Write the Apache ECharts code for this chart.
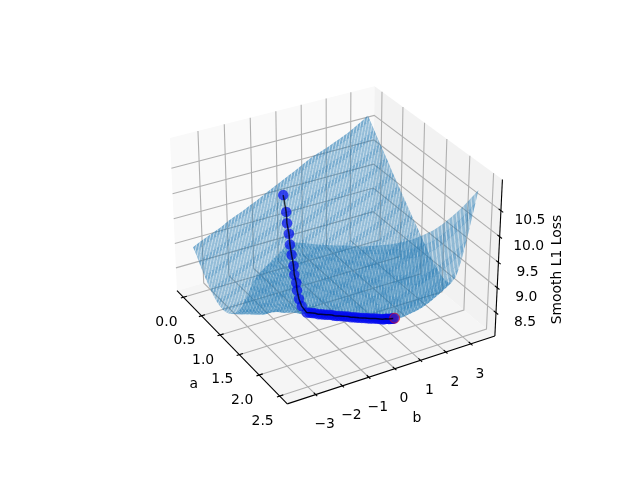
<!DOCTYPE html>
<html><head><meta charset="utf-8"><style>html,body{margin:0;padding:0;background:#fff}#c{width:640px;height:480px}</style>
<script src="https://cdn.jsdelivr.net/npm/echarts@6/dist/echarts.min.js"></script></head><body><div id="c"></div>
<script>
const aValues=[0,.1,.2,.3,.4,.5,.6,.7,.8,.9,1,1.1,1.2,1.3,1.4,1.5,1.6,1.7,1.8,1.9,2,2.1,2.2,2.3,2.4,2.5];
const bValues=[-3.6,-3.32,-3.04,-2.76,-2.48,-2.2,-1.92,-1.64,-1.36,-1.08,-.8,-.52,-.24,.04,.32,.6,.88,1.16,1.44,1.72,2,2.28,2.56,2.84,3.12,3.4];
const zGrid=[
[8.99,8.87,8.73,8.61,8.50,8.41,8.34,8.30,8.29,8.32,8.38,8.47,8.60,8.78,9.0,9.25,9.48,9.67,9.82,9.98,10.13,10.28,10.43,10.58,10.74,10.89],
[9.06,8.94,8.83,8.69,8.58,8.47,8.38,8.32,8.28,8.28,8.33,8.41,8.53,8.70,8.92,9.17,9.39,9.58,9.74,9.89,10.05,10.2,10.36,10.52,10.67,10.83],
[9.12,9.0,8.89,8.76,8.64,8.53,8.43,8.35,8.29,8.27,8.29,8.36,8.47,8.63,8.84,9.08,9.31,9.51,9.66,9.82,9.98,10.14,10.3,10.46,10.62,10.78],
[9.18,9.06,8.95,8.83,8.70,8.60,8.49,8.39,8.31,8.26,8.25,8.31,8.42,8.57,8.76,8.99,9.22,9.41,9.57,9.73,9.9,10.06,10.23,10.39,10.56,10.72],
[9.24,9.12,9.01,8.89,8.77,8.66,8.55,8.44,8.35,8.28,8.24,8.27,8.37,8.51,8.70,8.92,9.14,9.33,9.49,9.66,9.83,10.0,10.17,10.33,10.5,10.67],
[9.32,9.2,9.08,8.96,8.85,8.72,8.60,8.48,8.38,8.29,8.25,8.27,8.38,8.53,8.70,8.88,9.07,9.23,9.40,9.57,9.75,9.92,10.1,10.27,10.45,10.62],
[9.38,9.26,9.14,9.02,8.91,8.79,8.66,8.55,8.44,8.34,8.27,8.23,8.29,8.41,8.58,8.76,8.94,9.13,9.30,9.48,9.66,9.84,10.02,10.21,10.39,10.57],
[9.44,9.32,9.2,9.08,8.97,8.85,8.74,8.61,8.49,8.38,8.30,8.25,8.25,8.33,8.48,8.65,8.84,9.04,9.22,9.40,9.59,9.78,9.96,10.15,10.34,10.53],
[9.51,9.39,9.27,9.15,9.03,8.91,8.80,8.69,8.56,8.45,8.35,8.27,8.23,8.25,8.36,8.53,8.71,8.91,9.11,9.30,9.49,9.69,9.89,10.08,10.28,10.48],
[9.57,9.45,9.33,9.21,9.09,8.97,8.86,8.74,8.63,8.53,8.43,8.33,8.26,8.22,8.29,8.44,8.62,8.81,9.02,9.21,9.41,9.61,9.82,10.02,10.22,10.43],
[9.65,9.52,9.40,9.28,9.16,9.04,8.93,8.81,8.70,8.59,8.49,8.37,8.28,8.23,8.22,8.33,8.50,8.70,8.90,9.11,9.32,9.53,9.74,9.96,10.17,10.39],
[9.72,9.60,9.48,9.36,9.24,9.12,9.0,8.88,8.77,8.66,8.55,8.44,8.34,8.25,8.20,8.23,8.36,8.56,8.78,9.0,9.22,9.45,9.67,9.90,10.13,10.36],
[9.79,9.66,9.54,9.42,9.30,9.18,9.06,8.94,8.83,8.71,8.60,8.50,8.40,8.30,8.23,8.19,8.27,8.44,8.66,8.90,9.13,9.36,9.60,9.84,10.09,10.33],
[9.86,9.74,9.62,9.49,9.37,9.25,9.13,9.01,8.90,8.78,8.67,8.56,8.46,8.34,8.25,8.20,8.19,8.30,8.50,8.75,9.01,9.26,9.52,9.78,10.04,10.30],
[9.93,9.80,9.68,9.56,9.44,9.31,9.19,9.07,8.96,8.84,8.73,8.62,8.51,8.40,8.30,8.22,8.17,8.21,8.36,8.62,8.88,9.17,9.44,9.72,10.0,10.28],
[10.0,9.88,9.76,9.63,9.51,9.39,9.27,9.15,9.03,8.91,8.80,8.68,8.57,8.47,8.38,8.30,8.23,8.18,8.18,8.30,8.52,8.80,9.12,9.46,9.85,10.27],
[10.08,9.96,9.84,9.71,9.59,9.47,9.35,9.23,9.11,8.99,8.87,8.76,8.64,8.54,8.44,8.33,8.25,8.19,8.17,8.24,8.42,8.72,9.07,9.44,9.84,10.27],
[10.15,10.03,9.91,9.78,9.66,9.54,9.42,9.29,9.17,9.05,8.94,8.82,8.71,8.60,8.49,8.37,8.28,8.21,8.17,8.19,8.32,8.58,8.95,9.36,9.80,10.28],
[10.20,10.08,9.95,9.83,9.71,9.58,9.46,9.34,9.22,9.10,8.98,8.87,8.75,8.64,8.53,8.41,8.32,8.24,8.20,8.19,8.28,8.52,8.89,9.33,9.80,10.30],
[10.25,10.13,10.01,9.88,9.76,9.64,9.52,9.39,9.27,9.15,9.04,8.92,8.80,8.69,8.58,8.46,8.37,8.29,8.24,8.22,8.30,8.52,8.88,9.32,9.81,10.33],
[10.31,10.18,10.06,9.94,9.81,9.69,9.57,9.45,9.33,9.21,9.09,8.97,8.85,8.74,8.63,8.51,8.42,8.34,8.29,8.26,8.32,8.54,8.90,9.35,9.85,10.38],
[10.37,10.25,10.12,10.0,9.88,9.75,9.63,9.51,9.39,9.27,9.15,9.03,8.92,8.80,8.69,8.57,8.48,8.40,8.34,8.31,8.36,8.58,8.95,9.40,9.91,10.45],
[10.43,10.31,10.18,10.06,9.94,9.81,9.69,9.57,9.45,9.33,9.21,9.09,8.98,8.86,8.75,8.63,8.54,8.46,8.40,8.37,8.42,8.63,9.01,9.47,9.99,10.53],
[10.51,10.39,10.26,10.14,10.02,9.90,9.77,9.65,9.53,9.41,9.29,9.17,9.06,8.94,8.83,8.71,8.62,8.54,8.48,8.45,8.50,8.70,9.08,9.55,10.07,10.62],
[10.59,10.47,10.34,10.22,10.10,9.98,9.85,9.73,9.61,9.49,9.37,9.25,9.14,9.02,8.91,8.79,8.70,8.62,8.56,8.53,8.58,8.78,9.16,9.65,10.18,10.73],
[10.68,10.56,10.43,10.31,10.19,10.07,9.94,9.82,9.70,9.58,9.46,9.34,9.23,9.11,9.0,8.88,8.79,8.71,8.65,8.62,8.67,8.87,9.26,9.75,10.29,10.84]];
const pathA=[.13,.28,.33,.43,.48,.57,.67,.72,.82,.87,.97,1.12,1.33,1.35,1.37,1.395,1.42,1.44,1.46,1.48,1.50,1.52,1.54,1.56,1.58,1.60,1.62,1.64,1.66,1.68,1.70,1.72,1.74,1.76,1.78,1.80,1.82,1.84,1.86,1.88,1.90,1.91,1.92,1.93,1.94,1.95,1.96,1.96,1.97,1.97,1.98,1.98];
const pathB=[-.23,-.35,-.40,-.48,-.52,-.60,-.68,-.73,-.81,-.86,-.94,-1.07,-1.2,-1.12,-1.05,-.98,-.9,-.82,-.75,-.68,-.6,-.52,-.45,-.38,-.3,-.22,-.15,-.08,0,.08,.15,.22,.3,.38,.45,.52,.6,.66,.72,.78,.84,.89,.94,.98,1.02,1.05,1.08,1.10,1.12,1.15,1.17,1.19];
const pathZ=[9.65,9.43,9.24,9.11,8.93,8.80,8.66,8.52,8.44,8.33,8.24,8.23,8.28,8.28,8.28,8.28,8.27,8.27,8.27,8.27,8.27,8.27,8.26,8.26,8.26,8.26,8.26,8.26,8.25,8.25,8.25,8.25,8.25,8.25,8.25,8.25,8.25,8.26,8.26,8.26,8.26,8.26,8.27,8.27,8.27,8.27,8.28,8.28,8.28,8.28,8.29,8.29];
const aTicks=[0,.5,1,1.5,2,2.5], aLabels=['0.0','0.5','1.0','1.5','2.0','2.5'];
const bTicks=[-3,-2,-1,0,1,2,3], bLabels=['\u22123','\u22122','\u22121','0','1','2','3'];
const zTicks=[8.5,9,9.5,10,10.5], zLabels=['8.5','9.0','9.5','10.0','10.5'];
const aLim=[-.182,2.682], bLim=[-4.05,3.97], zLim=[8.025,11.085];
const SUB=2, GAP=.16, BAND_EVERY=3;

const k=1.8294640721620434*25/24/Math.sqrt(41), box=[4*k,4*k,3*k], R=box.map(v=>v/2);
const el=30*Math.PI/180, az=-30*Math.PI/180, dist=10;
const w=[Math.cos(el)*Math.cos(az),Math.cos(el)*Math.sin(az),Math.sin(el)];
const nn=Math.hypot(w[0],w[1]), u=[-w[1]/nn,w[0]/nn,0];
const v=[w[1]*u[2]-w[2]*u[1],w[2]*u[0]-w[0]*u[2],w[0]*u[1]-w[1]*u[0]];
const dot=(p,q)=>p[0]*q[0]+p[1]*q[1]+p[2]*q[2];
function proj(a,b,z){
  const d=[(a-aLim[0])/(aLim[1]-aLim[0])*box[0]-R[0],(b-bLim[0])/(bLim[1]-bLim[0])*box[1]-R[1],(z-zLim[0])/(zLim[1]-zLim[0])*box[2]-R[2]];
  const den=dist-dot(d,w);
  return [dot(d,u)/den,dot(d,v)/den];
}
const segs=(list,style,z)=>({type:'custom',coordinateSystem:'cartesian2d',silent:true,animation:false,clip:false,z,
  data:list.map((_,i)=>[i]),encode:{x:[],y:[]},
  renderItem:(p,api)=>{const s=list[api.value(0)];return {type:'polyline',shape:{points:s.map(q=>api.coord(q))},style:Object.assign({fill:null},style)};}});
const polys=(list,z)=>({type:'custom',coordinateSystem:'cartesian2d',silent:true,animation:false,clip:false,z,
  data:list.map((_,i)=>[i]),encode:{x:[],y:[]},
  renderItem:(p,api)=>{const s=list[api.value(0)];return {type:'polygon',shape:{points:s.pts.map(q=>api.coord(q))},style:{fill:s.fill}};}});
const texts=(list,z)=>({type:'custom',coordinateSystem:'cartesian2d',silent:true,animation:false,clip:false,z,
  data:list.map((_,i)=>[i]),encode:{x:[],y:[]},
  renderItem:(p,api)=>{const s=list[api.value(0)],c=api.coord(s.at);return {type:'text',x:c[0]+s.off[0],y:c[1]+s.off[1],rotation:s.rot||0,
    style:{text:s.t,fill:'#000',font:'13.9px "DejaVu Sans"',align:'center',verticalAlign:'middle'}};}});

const [a0,a1]=aLim,[b0,b1]=bLim,[z0,z1]=zLim;
const panes=[
 {pts:[proj(a0,b0,z0),proj(a0,b1,z0),proj(a0,b1,z1),proj(a0,b0,z1)],fill:'#f9f9f9'},
 {pts:[proj(a0,b1,z0),proj(a1,b1,z0),proj(a1,b1,z1),proj(a0,b1,z1)],fill:'#f2f2f2'},
 {pts:[proj(a0,b0,z0),proj(a1,b0,z0),proj(a1,b1,z0),proj(a0,b1,z0)],fill:'#f5f5f5'}];
const grid=[];
aTicks.forEach(a=>grid.push([proj(a,b0,z0),proj(a,b1,z0),proj(a,b1,z1)]));
bTicks.forEach(b=>grid.push([proj(a1,b,z0),proj(a0,b,z0),proj(a0,b,z1)]));
zTicks.forEach(z=>grid.push([proj(a0,b0,z),proj(a0,b1,z),proj(a1,b1,z)]));
const axes=[[proj(a0,b0,z0),proj(a1,b0,z0)],[proj(a1,b0,z0),proj(a1,b1,z0)],[proj(a1,b1,z0),proj(a1,b1,z1)]];
const da=(a1-a0)/12,db=(b1-b0)/12;
aTicks.forEach(a=>axes.push([proj(a,b0-.15*db,z0),proj(a,b0+.2*db,z0)]));
bTicks.forEach(b=>axes.push([proj(a1+.15*da,b,z0),proj(a1-.2*da,b,z0)]));
zTicks.forEach(z=>axes.push([proj(a1+.2*da,b1,z),proj(a1-.2*da,b1,z)]));
const cells=[];
const fillUnder='rgba(31,119,180,0.2)', fillBase='rgba(31,119,180,0.34)', fillBand='rgba(31,119,180,0.5)';
const pt=(j,i,s,t)=>{
  const z=(1-s)*((1-t)*zGrid[j][i]+t*zGrid[j][i+1])+s*((1-t)*zGrid[j+1][i]+t*zGrid[j+1][i+1]);
  return proj(aValues[i]+t*(aValues[i+1]-aValues[i]),bValues[j]+s*(bValues[j+1]-bValues[j]),z);};
const pull=(p,q,g)=>[p[0]+(q[0]-p[0])*g,p[1]+(q[1]-p[1])*g];
for(let j=0;j<bValues.length-1;j++)for(let i=0;i<aValues.length-1;i++){
  cells.push({pts:[pt(j,i,0,0),pt(j,i,1,0),pt(j,i,1,1),pt(j,i,0,1)],fill:fillUnder});
  for(let m=0;m<SUB;m++)for(let n=0;n<SUB;n++){
    const A=pt(j,i,m/SUB,n/SUB),B=pt(j,i,(m+1)/SUB,n/SUB),C=pt(j,i,(m+1)/SUB,(n+1)/SUB),D=pt(j,i,m/SUB,(n+1)/SUB);
    const fill=((i*SUB+n)%BAND_EVERY===0)?fillBand:fillBase;
    cells.push({pts:[A,pull(B,A,GAP),pull(D,A,GAP)],fill});
    cells.push({pts:[C,pull(B,C,GAP),pull(D,C,GAP)],fill});
  }
}
const path=pathA.map((a,i)=>proj(a,pathB[i],pathZ[i]));
const labels=[];
aTicks.forEach((a,i)=>labels.push({t:aLabels[i],at:proj(a,b0,z0),off:[-17,25]}));
bTicks.forEach((b,i)=>labels.push({t:bLabels[i],at:proj(a1,b,z0),off:[9,30]}));
zTicks.forEach((z,i)=>labels.push({t:zLabels[i],at:proj(a1,b1,z),off:[29,10]}));
labels.push({t:'a',at:proj((a0+a1)/2,b0,z0),off:[-36,40]});
labels.push({t:'b',at:proj(a1,(b0+b1)/2,z0),off:[23,49]});
labels.push({t:'Smooth L1 Loss',at:proj(a1,b1,(z0+z1)/2),off:[59,10],rot:Math.PI/2});

const chart=echarts.init(document.getElementById('c'),null,{renderer:'canvas',width:640,height:480});
chart.setOption({animation:false,backgroundColor:'#fff',
 grid:{left:143.2,top:57.6,width:369.6,height:369.6},
 xAxis:{type:'value',min:-.095,max:.09,show:false},
 yAxis:{type:'value',min:-.095,max:.09,show:false},
 series:[
  polys(panes,1),
  segs(grid,{stroke:'#b0b0b0',lineWidth:1.1},2),
  polys(cells,3),
  {type:'scatter',data:path.slice(0,-1),symbolSize:10.5,itemStyle:{color:'rgba(0,10,240,0.88)'},silent:true,animation:false,z:4},
  {type:'scatter',data:path.slice(-1),symbolSize:10,itemStyle:{color:'rgba(200,60,60,0.35)',borderColor:'rgba(255,0,0,0.7)',borderWidth:1},silent:true,animation:false,z:5},
  {type:'line',data:path,showSymbol:false,lineStyle:{color:'rgba(0,0,0,0.75)',width:1.5},silent:true,animation:false,z:6},
  segs(axes,{stroke:'#000',lineWidth:1.1},7),
  texts(labels,8)
 ]});
</script></body></html>
